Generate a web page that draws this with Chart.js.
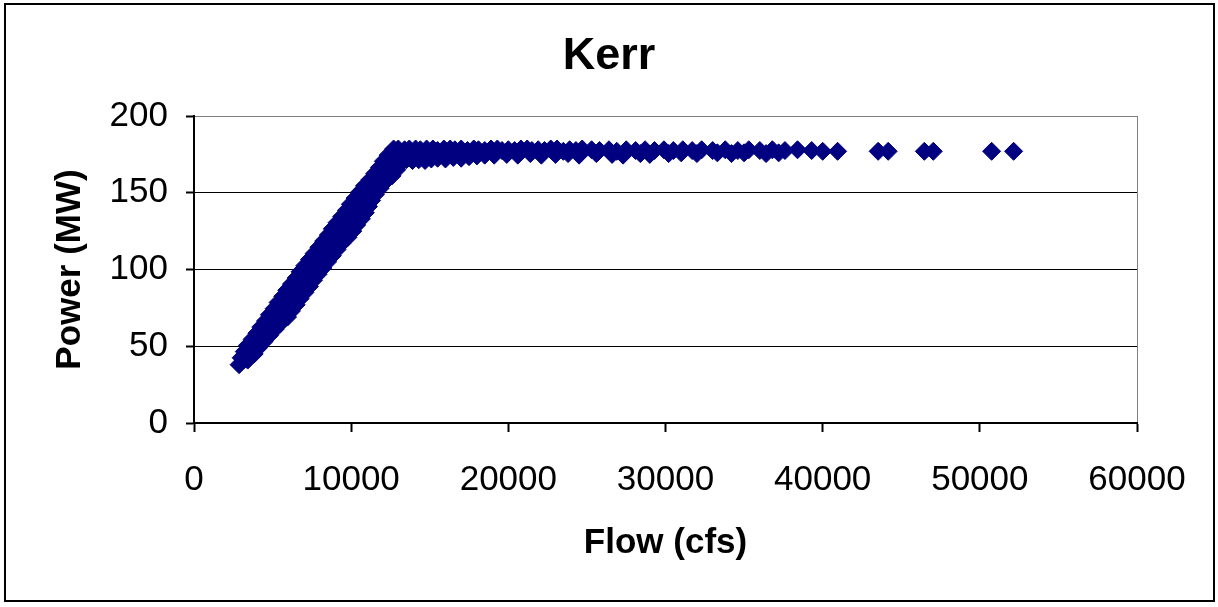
<!DOCTYPE html>
<html>
<head>
<meta charset="utf-8">
<script src="https://cdn.jsdelivr.net/npm/chart.js@4.4.1/dist/chart.umd.min.js"></script>
<style>
html,body{margin:0;padding:0;background:#fff;}
#wrap{width:1218px;height:607px;position:relative;}
</style>
</head>
<body>
<div id="wrap"><canvas id="c"></canvas></div>
<script>
// ---- data ----
const chartTitle = 'Kerr';
const xTitle = 'Flow (cfs)';
const yTitle = 'Power (MW)';
const xTickValues = [0, 10000, 20000, 30000, 40000, 50000, 60000];
const yTickValues = [0, 50, 100, 150, 200];

// rising part of the curve
const rampFlow = [
  2870,
  3000, 3200, 3420,
  3200, 3520, 3830,
  3400, 3750, 4100,
  3700, 4070, 4450,
  4000, 4400, 4800,
  4250, 4700, 5150,
  4550, 5030, 5500,
  4800, 5350, 5950,
  5100, 5650, 6200,
  5350, 5930, 6500,
  5650, 6200, 6750,
  5900, 6470, 7050,
  6200, 6770, 7350,
  6500, 7050, 7600,
  6750, 7330, 7900,
  7050, 7630, 8200,
  7350, 7920, 8500,
  7650, 8230, 8800,
  7950, 8520, 9100,
  8250, 8830, 9400,
  8550, 9170, 9800,
  8800, 9450, 10100,
  9100, 9730, 10350,
  9400, 10020, 10650,
  9700, 10300, 10900,
  9950, 10530, 11100,
  10250, 10770, 11300,
  10550, 11050, 11550,
  10850, 11350, 11850,
  11200, 11670, 12150,
  11500, 12050, 12600,
  11800, 12350, 12900,
  12050, 12550, 13100,
  12350, 12800,
  12700
];
const rampPower = [
  38,
  42.5, 41.5, 41,
  46.5, 45.5, 45,
  50.5, 49.5, 49,
  54.5, 53.5, 53,
  58.5, 57.5, 57,
  62.5, 61.5, 61,
  66.5, 65.5, 65,
  70.5, 69.5, 69,
  74.5, 73.5, 73,
  78.5, 77.5, 77,
  82.5, 81.5, 81,
  86.5, 85.5, 85,
  90.5, 89.5, 89,
  94.5, 93.5, 93,
  98.5, 97.5, 97,
  102.5, 101.5, 101,
  106.5, 105.5, 105,
  110.5, 109.5, 109,
  114.5, 113.5, 113,
  118.5, 117.5, 117,
  122.5, 121.5, 121,
  126.5, 125.5, 125,
  130.5, 129.5, 129,
  134.5, 133.5, 133,
  138.5, 137.5, 137,
  142.5, 141.5, 141,
  146.5, 145.5, 145,
  150.5, 149.5, 149,
  154.5, 153.5, 153,
  158.5, 157.5, 157,
  162.5, 161.5, 161,
  166.5, 165.5, 165,
  170.5, 169.5, 169,
  174.5, 173.5,
  178.5
];

// flat top (upper edge of the band)
const plateauTopFlow = [
  13000, 13400, 13700, 14100, 14400, 14800, 15200, 15500, 15900, 16300,
  16600, 17000, 17400, 17800, 18100, 18500, 18900, 19300, 19600, 20000,
  20400, 20800, 21200, 21500, 21900, 22300, 22700, 23100, 23500, 23900,
  24300, 24700, 25300, 25800, 26400, 26900, 27500, 28100, 28700, 29300,
  29900, 30500, 31100, 31700, 32300, 33000, 33800, 34600, 35300, 36000,
  36800, 37600, 38400, 39300
];
const plateauTopPower = [
  178.5, 178, 178.5, 178.5, 178, 178.5, 178.5, 177.5, 178.5, 178.5,
  178, 178.5, 177.5, 178.5, 178, 177.5, 178.5, 178.5, 177.5, 178,
  177.5, 178.5, 178.5, 177.5, 178, 177.5, 178.5, 178.5, 177, 178,
  177.5, 178.5, 178, 177.5, 178, 177, 178, 177.5, 178, 177.5,
  178, 177.5, 178, 177.5, 178, 177.5, 178, 177.5, 178, 177.5,
  178, 177.5, 178, 177.5
];

// flat top (lower edge of the band)
const plateauLowFlow = [
  13100, 13300, 13500, 13900, 14300, 14500, 14700, 15100, 15500, 15800,
  16000, 16500, 17000, 17200, 17500, 18000, 18500, 19100, 19900, 20600,
  21400, 22100, 23000, 23800, 24500, 25600, 26600, 27300, 28400, 29000,
  30200, 31000, 32000, 33300, 34200, 35000, 36400, 37200
];
const plateauLowPower = [
  171, 174.5, 171.5, 171, 171.5, 175, 171, 172, 172.5, 175.5,
  172, 173, 172.5, 176, 173.5, 174, 174.5, 174.5, 175, 174.5,
  175.5, 174.5, 175, 175.5, 174.5, 175.5, 175, 174.5, 175.5, 175,
  175.5, 176, 175.5, 176, 175.5, 176, 175.5, 176
];

// isolated high-flow points
const highFlow = [40000, 40950, 43530, 44170, 46470, 47040, 50750, 52150];
const highPower = [177, 177, 177, 177, 177, 177, 177, 177];

// ---- build points from the arrays ----
function pairs(xs, ys) { return xs.map((x, i) => ({ x: x, y: ys[i] })); }
const points = []
  .concat(pairs(rampFlow, rampPower))
  .concat(pairs(plateauLowFlow, plateauLowPower))
  .concat(pairs(plateauTopFlow, plateauTopPower))
  .concat(pairs(highFlow, highPower));

const FONT = "'Liberation Sans', Arial, Helvetica, sans-serif";
Chart.defaults.font.family = FONT;
Chart.defaults.color = '#000';

const framePlugin = {
  id: 'frame',
  beforeDraw(chart) {
    const ctx = chart.ctx;
    ctx.save();
    ctx.fillStyle = '#fff';
    ctx.fillRect(0, 0, chart.width, chart.height);
    ctx.restore();
  },
  afterDraw(chart) {
    const ctx = chart.ctx;
    ctx.save();
    ctx.strokeStyle = '#000';
    ctx.lineWidth = 2;
    ctx.strokeRect(5, 4, 1209, 597);
    ctx.restore();
  }
};

new Chart(document.getElementById('c'), {
  type: 'scatter',
  data: {
    datasets: [{
      label: 'Kerr',
      data: points,
      pointStyle: 'rectRot',
      pointRadius: 9,
      pointBorderWidth: 1,
      backgroundColor: '#000080',
      borderColor: '#000080',
      clip: false
    }]
  },
  options: {
    responsive: true,
    maintainAspectRatio: false,
    animation: false,
    events: [],
    layout: { padding: 0 },
    plugins: {
      legend: { display: false },
      tooltip: { enabled: false },
      title: {
        display: true,
        text: chartTitle,
        color: '#000',
        font: { family: FONT, size: 45, weight: 'bold' },
        padding: { top: 30, bottom: 32 }
      }
    },
    scales: {
      x: {
        type: 'linear',
        min: xTickValues[0],
        max: xTickValues[xTickValues.length - 1],
        afterBuildTicks: (s) => { s.ticks = xTickValues.map(v => ({ value: v })); },
        afterFit: (s) => { s.height = 184; },
        ticks: {
          color: '#000',
          font: { family: FONT, size: 35 },
          padding: 27,
          maxRotation: 0,
          autoSkip: false,
          callback: (v) => String(v)
        },
        grid: {
          display: true,
          drawOnChartArea: true,
          color: (c) => (c.tick && c.tick.value === 60000) ? '#808080' : 'rgba(0,0,0,0)',
          tickColor: '#000',
          tickLength: 9,
          lineWidth: 1,
          tickWidth: 2
        },
        border: { display: true, color: '#000', width: 2 },
        title: {
          display: true,
          text: xTitle,
          color: '#000',
          font: { family: FONT, size: 35, weight: 'bold' },
          padding: { top: 0, bottom: 43 }
        }
      },
      y: {
        type: 'linear',
        position: 'left',
        min: yTickValues[0],
        max: yTickValues[yTickValues.length - 1],
        afterBuildTicks: (s) => { s.ticks = yTickValues.map(v => ({ value: v })); },
        afterFit: (s) => { s.width = 194; },
        ticks: {
          color: '#000',
          font: { family: FONT, size: 35 },
          padding: 18,
          callback: (v) => String(v)
        },
        grid: {
          color: (c) => (c.tick && c.tick.value === 200) ? '#808080' : '#000',
          tickColor: '#000',
          tickLength: 8,
          lineWidth: 1,
          tickWidth: 2
        },
        border: { display: true, color: '#000', width: 2 },
        title: {
          display: true,
          text: yTitle,
          color: '#000',
          font: { family: FONT, size: 35, weight: 'bold' },
          padding: { top: 49, bottom: 0 }
        }
      },
      rightSpace: {
        type: 'linear',
        position: 'right',
        display: true,
        min: 0,
        max: 1,
        afterFit: (s) => { s.width = 81; },
        ticks: { display: false },
        grid: { display: false, drawTicks: false },
        border: { display: false },
        title: { display: false }
      }
    }
  },
  plugins: [framePlugin]
});
</script>
</body>
</html>
